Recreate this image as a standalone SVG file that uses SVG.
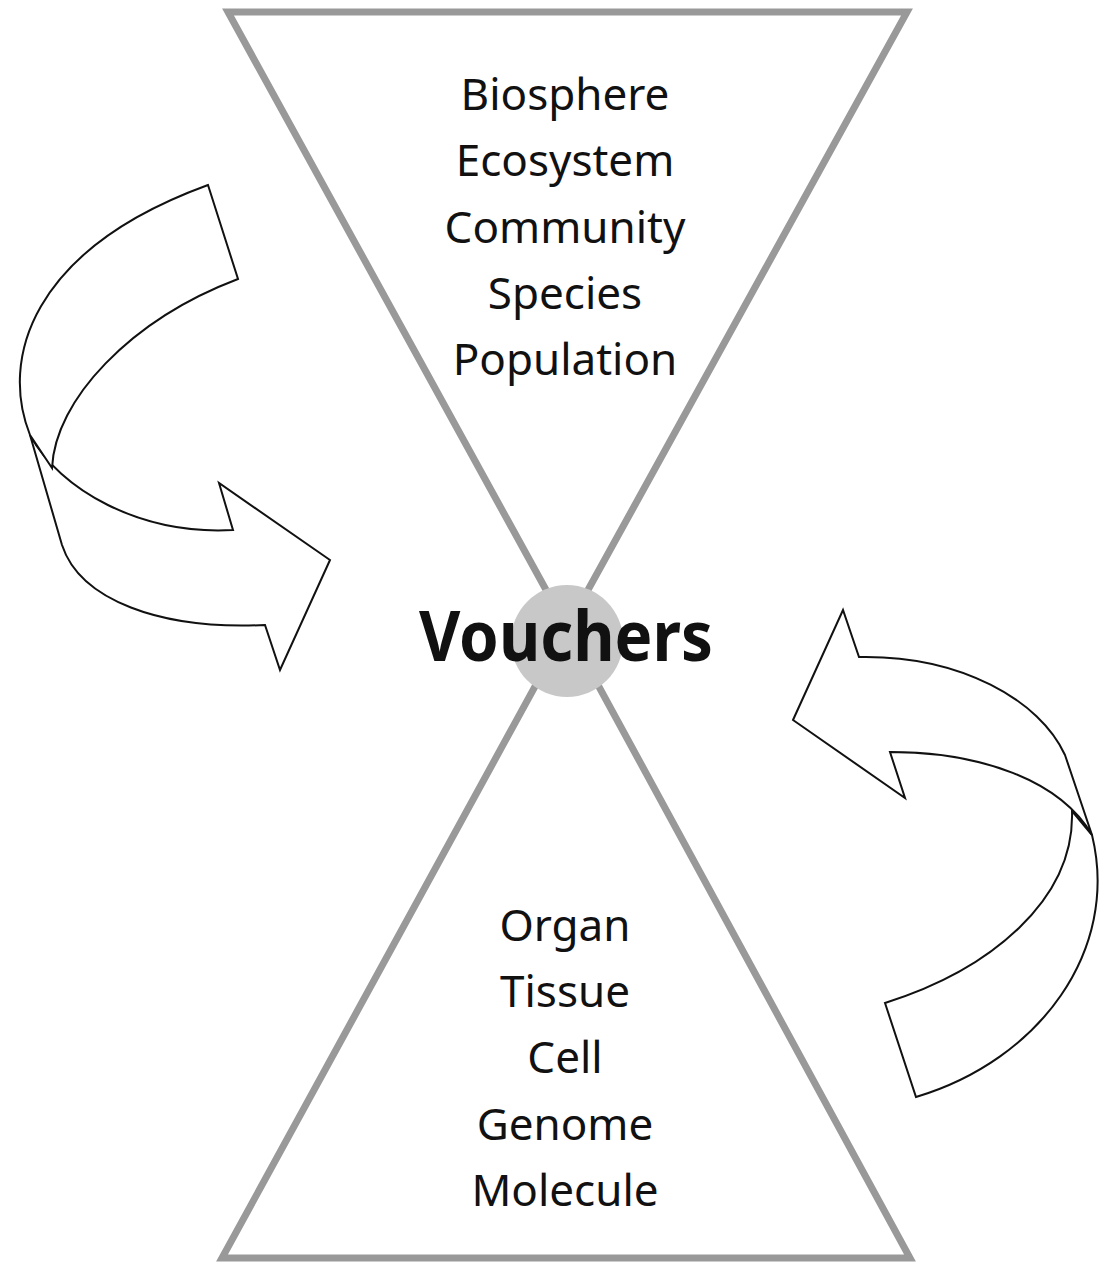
<svg xmlns="http://www.w3.org/2000/svg" width="1111" height="1267" viewBox="0 0 1111 1267">
<style>
.hg{fill:none;stroke:#999;stroke-width:7;stroke-linejoin:miter}
.ar{fill:#fff;stroke:#111;stroke-width:2;stroke-linejoin:miter}
.t{font-family:"Noto Sans","DejaVu Sans",sans-serif;font-size:44px;fill:#111;text-anchor:middle}
</style>
<rect width="1111" height="1267" fill="#fff"/>
<g id="hourglass">
<polygon class="hg" points="228,12 907,12 567,628"/>
<polygon class="hg" points="222,1258 910,1258 567,628"/>
</g>
<g id="vouchers">
<circle cx="567" cy="641" r="56" fill="#c8c8c8"/>
<text x="566" y="661" class="t" style="font-size:70px;font-weight:bold" textLength="294" lengthAdjust="spacingAndGlyphs">Vouchers</text>
</g>
<g id="upper">
<text class="t" x="565" y="110">Biosphere</text>
<text class="t" x="565" y="176">Ecosystem</text>
<text class="t" x="565" y="243">Community</text>
<text class="t" x="565" y="309">Species</text>
<text class="t" x="565" y="375">Population</text>
</g>
<g id="lower">
<text class="t" x="565" y="941">Organ</text>
<text class="t" x="565" y="1007">Tissue</text>
<text class="t" x="565" y="1073">Cell</text>
<text class="t" x="565" y="1140">Genome</text>
<text class="t" x="565" y="1206">Molecule</text>
</g>
<g id="connectors">
<path class="ar" d="M30,435 C60,490 140,535 233,530 L219,483 L330,560 L280,670 L265,625 C160,630 80,600 62,545 Z"/>
<path class="ar" d="M208,185 L238,279 C130,320 55,400 52,468 L30,435 C0,360 30,250 208,185 Z"/>
<path class="ar" d="M1072,811 C1075,900 990,970 885,1003 L916,1097 C1040,1060 1120,950 1092,835 Z"/>
<path class="ar" d="M859,657 C960,655 1040,700 1065,755 L1092,835 C1060,780 980,752 890,752 L905,798 L793,720 L843,610 Z"/>
</g>
</svg>
